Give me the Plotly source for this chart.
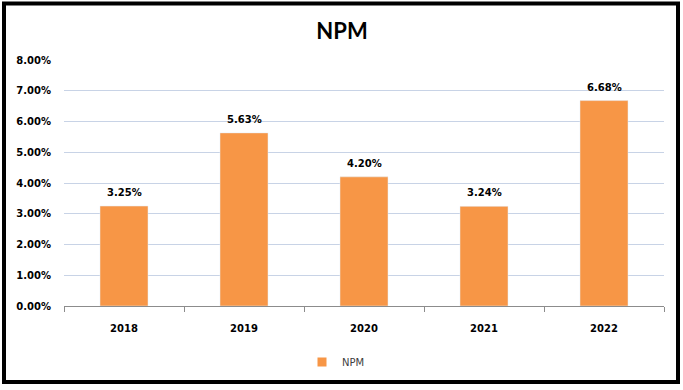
import plotly.graph_objects as go

years = ["2018", "2019", "2020", "2021", "2022"]
npm = [0.0325, 0.0563, 0.0420, 0.0324, 0.0668]
labels = ["3.25%", "5.63%", "4.20%", "3.24%", "6.68%"]
series_name = "NPM"

BAR = "#F79646"
FONT = "DejaVu Sans"

fig = go.Figure()
fig.add_trace(go.Bar(
    x=years, y=npm, marker_color=BAR, showlegend=False,
    name=series_name, hoverinfo="x+y",
))
# legend proxy with a small square swatch (no visible data)
fig.add_trace(go.Scatter(
    x=[years[0]], y=[None], mode="markers", name=series_name,
    marker=dict(symbol="square", size=9, color=BAR), hoverinfo="skip",
))

# category index positions (numeric-looking category names are read as indices)
for i, (y, t) in enumerate(zip(npm, labels)):
    fig.add_annotation(x=i, y=y, xref="x", yref="y", text="<b>%s</b>" % t,
                       showarrow=False, yanchor="bottom", yshift=6,
                       font=dict(family=FONT, size=10, color="#000000"))

W, H = 683, 390
L, R, T, B = 64, 19, 60, 84
pw, ph = W - L - R, H - T - B

def px(xp):
    return (xp - L) / pw

def py(yp):
    return (H - B - yp) / ph

fig.add_shape(type="rect", xref="paper", yref="paper",
              x0=px(4), x1=px(678), y0=py(382), y1=py(3.5),
              line=dict(color="black", width=4), fillcolor="rgba(0,0,0,0)")

fig.update_layout(
    width=W, height=H,
    margin=dict(l=L, r=R, t=T, b=B, autoexpand=False),
    paper_bgcolor="white", plot_bgcolor="white",
    bargap=0.6,
    title=dict(text="<b>NPM</b>", x=342 / W, xanchor="center", xref="container",
               y=1 - 31 / H, yanchor="middle", yref="container",
               font=dict(family="Lato", size=22, color="#000000")),
    font=dict(family=FONT, size=10, color="#404040"),
    showlegend=True,
    legend=dict(orientation="h", x=px(336), xanchor="center", y=py(362), yanchor="middle",
                font=dict(family=FONT, size=10, color="#404040"),
                itemwidth=30, bgcolor="rgba(0,0,0,0)"),
    xaxis=dict(type="category", categoryorder="array", categoryarray=years,
               range=[-0.5, len(years) - 0.5], tickangle=0,
               showline=True, linecolor="#8c8c8c", linewidth=1,
               ticks="outside", tickson="boundaries", ticklen=5, tickcolor="#8c8c8c",
               showgrid=False, tickfont=dict(family=FONT, size=10, color="#000000", weight="bold"),
               ticklabelstandoff=13, fixedrange=True),
    yaxis=dict(range=[0, 0.08], dtick=0.01, tickformat=".2%", showgrid=True,
               gridcolor="#c8d3e6", gridwidth=1, zeroline=False, showline=False,
               ticks="", ticklabelstandoff=12,
               tickfont=dict(family=FONT, size=10, color="#000000", weight="bold"), fixedrange=True),
)

fig.write_html("out.html", config={"displayModeBar": False},
               post_script="document.body.style.margin='0';")
